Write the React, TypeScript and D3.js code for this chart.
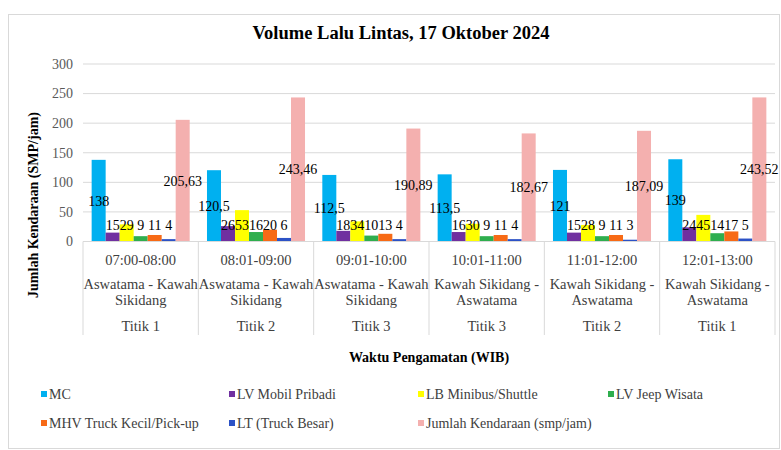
import React from "react";
import * as d3 from "d3";

const times = ["07:00-08:00", "08:01-09:00", "09:01-10:00", "10:01-11:00", "11:01-12:00", "12:01-13:00"];
const routes = [
  ["Aswatama - Kawah", "Sikidang"],
  ["Aswatama - Kawah", "Sikidang"],
  ["Aswatama - Kawah", "Sikidang"],
  ["Kawah Sikidang -", "Aswatama"],
  ["Kawah Sikidang -", "Aswatama"],
  ["Kawah Sikidang -", "Aswatama"],
];
const points = ["Titik 1", "Titik 2", "Titik 3", "Titik 3", "Titik 2", "Titik 1"];

const seriesNames = [
  "MC",
  "LV Mobil Pribadi",
  "LB Minibus/Shuttle",
  "LV Jeep Wisata",
  "MHV Truck Kecil/Pick-up",
  "LT (Truck Besar)",
  "Jumlah Kendaraan (smp/jam)",
];
const mc = [138, 120.5, 112.5, 113.5, 121, 139];
const lvMobil = [15, 26, 18, 16, 15, 24];
const lbMinibus = [29, 53, 34, 30, 28, 45];
const lvJeep = [9, 16, 10, 9, 9, 14];
const mhvTruck = [11, 20, 13, 11, 11, 17];
const ltTruck = [4, 6, 4, 4, 3, 5];
const jumlah = [205.63, 243.46, 190.89, 182.67, 187.09, 243.52];
const yTicks = [0, 50, 100, 150, 200, 250, 300];

const seriesValues = [mc, lvMobil, lbMinibus, lvJeep, mhvTruck, ltTruck, jumlah];
const colors = ["#00B0F0", "#7030A0", "#FFFF00", "#2FAE4E", "#F76A16", "#2C52C6", "#F4B0AF"];

const W = 781;
const H = 450;
const FONT = "Liberation Serif, DejaVu Serif, serif";

export default function App() {
  const x0 = d3.scaleBand<number>().domain(d3.range(times.length)).range([83, 775]).padding(0);
  const bw = x0.bandwidth();
  const gap = bw * 0.075;
  const x1 = d3.scaleBand<number>().domain(d3.range(seriesNames.length)).range([gap, bw - gap]).padding(0);
  const y = d3.scaleLinear().domain([0, 300]).range([241.5, 64]);
  const y0 = y(0);
  const fmt = (v: number) => String(v).replace(".", ",");

  const legendCols = [44, 232, 421, 611];
  const legendRows = [394, 423];

  return (
    <svg
      width={W}
      height={H}
      fontFamily={FONT}
      style={{ position: "absolute", left: 0, top: 0, background: "#fff" }}
    >
      <rect x={8.5} y={14.5} width={771} height={434} fill="#fff" stroke="#D9D9D9" strokeWidth={1} />
      <text x={401} y={39} textAnchor="middle" fontFamily={FONT} fontSize={18.5} fontWeight="bold" fill="#000">
        Volume Lalu Lintas, 17 Oktober 2024
      </text>

      {/* gridlines + y ticks */}
      {yTicks.map((t) => (
        <g key={t}>
          {t > 0 && <line x1={83} x2={775} y1={y(t)} y2={y(t)} stroke="#D9D9D9" strokeWidth={1} />}
          <text x={73} y={y(t)} dy="0.35em" textAnchor="end" fontFamily={FONT} fontSize={14} fill="#595959">
            {t}
          </text>
        </g>
      ))}

      {/* bars */}
      {seriesValues.map((vals, si) =>
        vals.map((v, gi) => (
          <rect
            key={`b${si}-${gi}`}
            x={(x0(gi) as number) + (x1(si) as number)}
            y={y(v)}
            width={x1.bandwidth()}
            height={y0 - y(v)}
            fill={colors[si]}
          />
        ))
      )}

      {/* axis line and separators */}
      <line x1={83} x2={775} y1={y0} y2={y0} stroke="#D9D9D9" strokeWidth={1} />
      {d3.range(times.length + 1).map((i) => {
        const xx = i < times.length ? (x0(i) as number) : 775;
        return <line key={`s${i}`} x1={xx} x2={xx} y1={y0} y2={335} stroke="#D9D9D9" strokeWidth={1} />;
      })}

      {/* data labels */}
      {seriesValues.map((vals, si) =>
        vals.map((v, gi) => {
          const cx = (x0(gi) as number) + (x1(si) as number) + x1.bandwidth() / 2;
          const cy = Math.min((y(v) + y0) / 2, y0 - 16);
          return (
            <text key={`l${si}-${gi}`} x={cx} y={cy} dy="0.35em" textAnchor="middle" fontFamily={FONT} fontSize={14} fill="#000">
              {fmt(v)}
            </text>
          );
        })
      )}

      {/* category labels */}
      {times.map((t, gi) => {
        const cx = (x0(gi) as number) + bw / 2;
        return (
          <g key={`c${gi}`} fontFamily={FONT} fontSize={14.5} fill="#404040" textAnchor="middle">
            <text x={cx} y={260} dy="0.35em">{t}</text>
            <text x={cx} y={284} dy="0.35em">{routes[gi][0]}</text>
            <text x={cx} y={300} dy="0.35em">{routes[gi][1]}</text>
            <text x={cx} y={326} dy="0.35em">{points[gi]}</text>
          </g>
        );
      })}

      {/* axis titles */}
      <text x={429} y={357} dy="0.35em" textAnchor="middle" fontFamily={FONT} fontSize={14} fontWeight="bold" fill="#000">
        Waktu Pengamatan (WIB)
      </text>
      <text
        transform={`translate(33, 205) rotate(-90)`}
        dy="0.35em"
        textAnchor="middle"
        fontFamily={FONT}
        fontSize={14}
        fontWeight="bold"
        fill="#000"
      >
        Jumlah Kendaraan (SMP/jam)
      </text>

      {/* legend */}
      {seriesNames.map((name, i) => {
        const lx = legendCols[i % 4];
        const ly = legendRows[Math.floor(i / 4)];
        return (
          <g key={`lg${i}`}>
            <rect x={lx - 3} y={ly - 3} width={6} height={6} fill={colors[i]} />
            <text x={lx + 5} y={ly} dy="0.35em" fontFamily={FONT} fontSize={14} fill="#404040">
              {name}
            </text>
          </g>
        );
      })}
    </svg>
  );
}
